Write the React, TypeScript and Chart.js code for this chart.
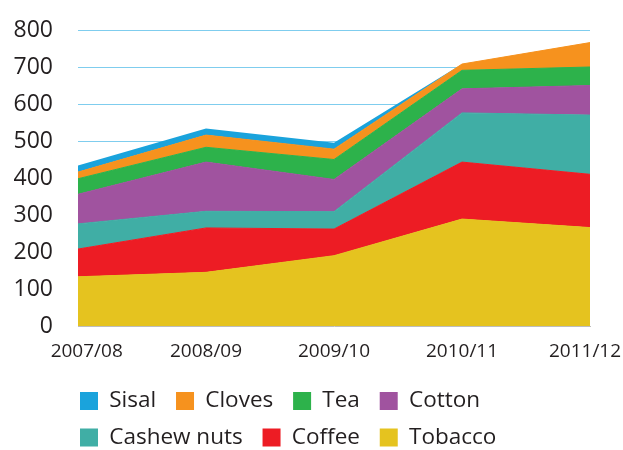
import React, { useEffect, useRef } from "react";
import { Chart, registerables } from "chart.js";

Chart.register(...registerables);

// ---- data ----
const categories = ["2007/08", "2008/09", "2009/10", "2010/11", "2011/12"];
const tobacco = [133, 145, 190, 289, 266];
const coffee = [75, 120, 72, 154, 144];
const cashewNuts = [68, 45, 47, 133, 160];
const cotton = [80, 133, 87, 65, 80];
const tea = [42, 40, 54, 50, 50];
const cloves = [18, 33, 28, 17, 66];
const sisal = [18, 18, 17, 0, 0];
const yMin = 0;
const yMax = 800;
const yStep = 100;

const seriesNames = ["Tobacco", "Coffee", "Cashew nuts", "Cotton", "Tea", "Cloves", "Sisal"];
const seriesData = [tobacco, coffee, cashewNuts, cotton, tea, cloves, sisal];
const seriesColors = ["#E5C31F", "#ED1C24", "#40AEA5", "#A0539F", "#2DB24B", "#F6921E", "#1AA3DC"];

const FONT = "'Open Sans', 'DejaVu Sans', sans-serif";
const TEXT = "#231F20";

const tweakPlugin = {
  id: "tweak",
  afterLayout(chart: any) {
    const lg = chart.legend;
    if (lg) {
      lg.left -= 12;
      lg.right -= 12;
      lg.top += 8.75;
      lg.bottom += 8.75;
    }
  },
  beforeDraw(chart: any) {
    const x = chart.scales.x;
    const items = x.getLabelItems();
    if (items.length && !items._shifted) {
      items[0].options.translation[0] += 8.7;
      items[items.length - 1].options.translation[0] -= 5;
      items._shifted = true;
    }
  },
};

export default function App() {
  const ref = useRef<HTMLCanvasElement>(null);

  useEffect(() => {
    if (!ref.current) return;
    const datasets = seriesNames.map((name, i) => ({
      label: name,
      data: seriesData[i],
      backgroundColor: seriesColors[i],
      borderColor: seriesColors[i],
      borderWidth: name === "Sisal" ? 0 : 1,
      pointRadius: 0,
      pointHoverRadius: 0,
      tension: 0,
      fill: i === 0 ? "origin" : "-1",
    }));

    const chart = new Chart(ref.current, {
      type: "line",
      data: { labels: categories, datasets: datasets as any },
      plugins: [tweakPlugin],
      options: {
        responsive: false,
        animation: false,
        layout: { autoPadding: false, padding: { top: 30, right: 33, left: 0, bottom: 0 } },
        plugins: {
          tooltip: { enabled: false },
          legend: {
            position: "bottom",
            align: "start",
            fullSize: false,
            reverse: true,
            labels: {
              boxWidth: 18,
              boxHeight: 18,
              padding: 14,
              color: TEXT,
              font: { family: FONT, size: 22.5 },
              generateLabels: (c: any) => {
                const items = Chart.defaults.plugins.legend.labels.generateLabels(c);
                return items.map((it: any) => ({ ...it, text: it.text + " ", lineWidth: 0 }));
              },
            },
          },
        },
        scales: {
          x: {
            type: "category",
            offset: false,
            grid: { display: false, drawTicks: false },
            border: { display: true, color: "#BDBDBD", width: 1 },
            ticks: {
              color: TEXT,
              font: { family: FONT, size: 19 },
              padding: 14,
              maxRotation: 0,
              autoSkip: false,
            },
            afterFit: (s: any) => {
              s.height = 41;
              s.paddingLeft = 0;
              s.paddingRight = 0;
            },
          },
          y: {
            stacked: true,
            min: yMin,
            max: yMax,
            grid: {
              color: (ctx: any) => (ctx.tick && ctx.tick.value === 0 ? "rgba(0,0,0,0)" : "#7FCDEE"),
              lineWidth: 1,
              drawTicks: false,
            },
            border: { display: false },
            ticks: {
              stepSize: yStep,
              color: TEXT,
              font: { family: FONT, size: 23 },
              padding: 25,
            },
            afterFit: (s: any) => {
              s.width = 78;
              s.paddingTop = 0;
              s.paddingBottom = 0;
            },
          },
        },
      } as any,
    });
    return () => chart.destroy();
  }, []);

  return (
    <div style={{ position: "fixed", left: 0, top: 0, width: 623, height: 450, background: "#fff" }}>
      <canvas ref={ref} width={623} height={450} style={{ display: "block", width: 623, height: 450 }} />
    </div>
  );
}
